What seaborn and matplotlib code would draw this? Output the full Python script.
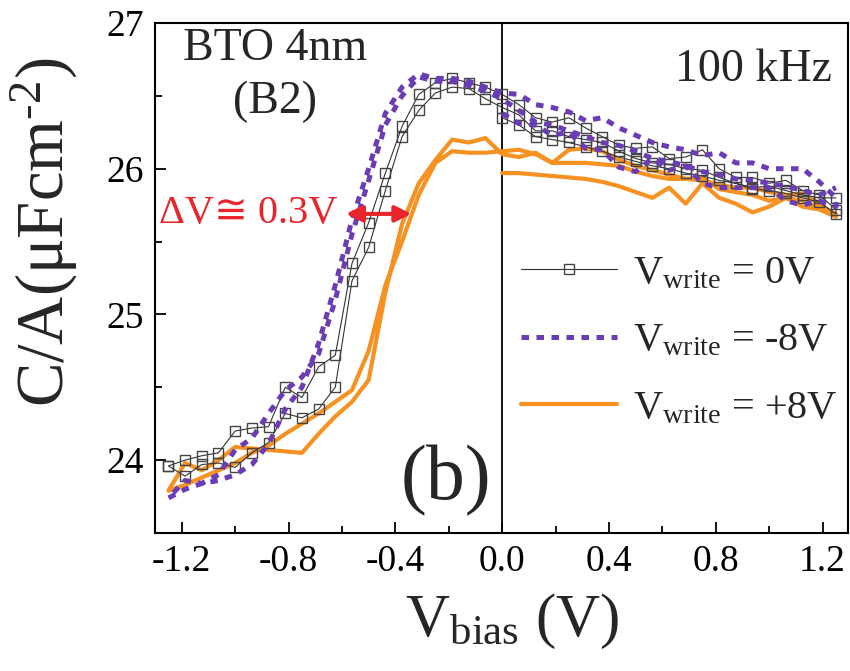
import numpy as np
import pandas as pd
import matplotlib
matplotlib.use("Agg")
import matplotlib.pyplot as plt
from matplotlib.ticker import MultipleLocator
import seaborn as sns

# bias sweep: 0 -> +1.25 (init), +1.25 -> -1.25 (down), -1.25 -> +1.25 (up)
v_right = np.linspace(0.0, 1.25, 21)
v_full = np.linspace(-1.25, 1.25, 41)

# C/A values (uF/cm^2), down/up lists given in ascending bias
c0_init = [26.35, 26.30, 26.22, 26.20, 26.18, 26.15, 26.12, 26.08, 26.05, 26.02, 26.00,
           25.97, 25.95, 25.92, 25.90, 25.86, 25.85, 25.83, 25.80, 25.77, 25.69]
c0_down = [23.96, 24.00, 24.03, 24.05, 24.20, 24.22, 24.23, 24.50, 24.43, 24.64, 24.72,
           25.35, 25.63, 25.97, 26.29, 26.51, 26.59, 26.62, 26.59, 26.56, 26.51,
           26.44, 26.35, 26.32, 26.35, 26.28, 26.22, 26.16, 26.14, 26.15, 26.07,
           26.08, 26.13, 26.00, 25.94, 25.94, 25.90, 25.92, 25.85, 25.82, 25.72]
c0_up = [23.96, 23.89, 23.97, 23.98, 23.95, 24.05, 24.12, 24.32, 24.29, 24.35, 24.50,
         25.23, 25.46, 25.85, 26.22, 26.40, 26.52, 26.56, 26.55, 26.48, 26.42,
         26.37, 26.26, 26.26, 26.22, 26.20, 26.18, 26.12, 26.07, 26.04, 26.03,
         26.00, 25.99, 25.94, 25.90, 25.87, 25.88, 25.85, 25.82, 25.80, 25.80]

cm8_init = [26.38, 26.31, 26.30, 26.23, 26.25, 26.14, 26.13, 26.01, 25.98, 26.07, 25.99,
            26.02, 25.90, 25.87, 25.87, 25.87, 25.87, 25.78, 25.75, 25.78, 25.74]
cm8_down = [23.74, 23.80, 23.84, 23.86, 23.90, 23.97, 24.11, 24.35, 24.50, 24.80, 25.20,
            25.65, 26.00, 26.38, 26.56, 26.65, 26.62, 26.62, 26.60, 26.56, 26.52,
            26.51, 26.44, 26.42, 26.39, 26.33, 26.35, 26.28, 26.23, 26.18, 26.15,
            26.13, 26.09, 26.11, 26.04, 26.04, 26.00, 26.00, 26.00, 25.91, 25.80]
cm8_up = [23.74, 23.86, 23.84, 23.90, 24.07, 24.15, 24.32, 24.48, 24.57, 24.73, 25.10,
          25.55, 25.92, 26.30, 26.50, 26.63, 26.60, 26.60, 26.57, 26.53, 26.48,
          26.40, 26.32, 26.30, 26.26, 26.22, 26.18, 26.16, 26.12, 26.07, 26.05,
          26.02, 25.98, 25.96, 25.93, 25.92, 25.90, 25.88, 25.85, 25.82, 25.87]

cp8_init = [25.97, 25.97, 25.96, 25.95, 25.94, 25.93, 25.91, 25.88, 25.84, 25.80, 25.87,
            25.76, 25.90, 25.80, 25.76, 25.70, 25.74, 25.80, 25.74, 25.72, 25.67]
cp8_down = [23.79, 23.98, 23.93, 24.00, 24.09, 24.08, 24.07, 24.06, 24.05, 24.18, 24.30,
            24.40, 24.55, 25.15, 25.62, 25.90, 26.06, 26.20, 26.18, 26.21, 26.10,
            26.08, 26.11, 26.04, 26.04, 26.04, 26.03, 26.02, 25.98, 25.95, 25.93,
            25.93, 25.92, 25.89, 25.87, 25.87, 25.84, 25.82, 25.83, 25.76, 25.68]
cp8_up = [23.79, 23.83, 23.88, 23.93, 23.98, 24.05, 24.10, 24.18, 24.25, 24.32, 24.40,
          24.48, 24.75, 25.20, 25.50, 25.82, 26.04, 26.12, 26.11, 26.11, 26.12,
          26.13, 26.10, 26.04, 26.13, 26.14, 26.12, 26.06, 26.02, 25.99, 25.96,
          25.93, 25.94, 25.86, 25.84, 25.82, 25.78, 25.80, 25.78, 25.73, 25.69]

labels = [r"V$_{\mathregular{write}}$ = 0V",
          r"V$_{\mathregular{write}}$ = -8V",
          r"V$_{\mathregular{write}}$ = +8V"]


def sweep(init, down, up, name):
    v = np.concatenate([v_right, v_full[::-1], v_full])
    c = np.concatenate([init, down[::-1], up])
    return pd.DataFrame({"V": v, "C": c, "series": name})


df = pd.concat([
    sweep(c0_init, c0_down, c0_up, labels[0]),
    sweep(cm8_init, cm8_down, cm8_up, labels[1]),
    sweep(cp8_init, cp8_down, cp8_up, labels[2]),
], ignore_index=True)

sns.set_theme(style="white")
plt.rcParams["font.family"] = ["Liberation Serif", "DejaVu Sans"]
plt.rcParams["mathtext.fontset"] = "custom"
plt.rcParams["mathtext.rm"] = "Liberation Serif"
plt.rcParams["mathtext.it"] = "Liberation Serif:italic"

orange = "#F59222"
purple = "#6A3DB4"
red = "#E8252B"

fig = plt.figure(figsize=(8.5, 6.71), dpi=100)
ax = fig.add_axes([0.1824, 0.2057, 0.8152, 0.76])

sns.lineplot(data=df[df.series == labels[2]], x="V", y="C", sort=False, estimator=None,
             color=orange, lw=3.0, ax=ax, zorder=2, label=labels[2])
sns.lineplot(data=df[df.series == labels[0]], x="V", y="C", sort=False, estimator=None,
             color="#333333", lw=0.8, marker="s", markersize=7, mfc="none", mec="#444444",
             mew=1.0, ax=ax, zorder=3, label=labels[0])
sns.lineplot(data=df[df.series == labels[1]], x="V", y="C", sort=False, estimator=None,
             color=purple, lw=3.6, ax=ax, zorder=4, label=labels[1],
             dashes=False)
ax.lines[-1].set_linestyle((0, (1.5, 1.5)))
ax.lines[-1].set_dash_capstyle("butt")

ax.axvline(0, color="black", lw=1.3, zorder=1)

ax.set_xlim(-1.30, 1.295)
ax.set_ylim(23.5, 27.0)
ax.xaxis.set_minor_locator(MultipleLocator(0.2))
ax.yaxis.set_minor_locator(MultipleLocator(0.5))
ax.set_xticks([-1.2, -0.8, -0.4, 0.0, 0.4, 0.8, 1.2])
ax.set_xticklabels(["-1.2", "-0.8", "-0.4", "0.0", "0.4", "0.8", "1.2"])
ax.set_yticks([24, 25, 26, 27])
ax.set_yticklabels(["24", "25", "26", "27"])
ax.tick_params(which="both", direction="in", bottom=True, left=True, top=False, right=False,
               width=1.3, colors="black")
ax.tick_params(which="major", length=8, labelsize=27, pad=8)
ax.tick_params(which="minor", length=5)
for s in ax.spines.values():
    s.set_color("black")
    s.set_linewidth(1.5)

ax.set_xlabel(r"V$_{\mathregular{bias}}$ (V)", fontsize=44)
ax.xaxis.set_label_coords(0.515, -0.115)
ax.set_ylabel(r"C/A(μFcm$^{\text{-2}}$)", fontsize=48, va="center")
ax.yaxis.set_label_coords(-0.16, 0.59)

ax.text(-0.85, 26.82, "BTO 4nm", fontsize=33, ha="center", va="center")
ax.text(-0.85, 26.46, "(B2)", fontsize=33, ha="center", va="center")
ax.text(1.235, 26.68, "100 kHz", fontsize=33, ha="right", va="center")
ax.text(-0.21, 23.86, "(b)", fontsize=56, ha="center", va="center")
ax.text(-1.285, 25.69, "ΔV≅ 0.3V", fontsize=29, color=red, ha="left", va="center",
        family=["Liberation Serif", "DejaVu Sans"])
ax.annotate("", xy=(-0.34, 25.69), xytext=(-0.585, 25.69),
            arrowprops=dict(arrowstyle="<|-|>", color=red, lw=3, mutation_scale=24,
                            shrinkA=0, shrinkB=0), zorder=6)

h, l = ax.get_legend_handles_labels()
order = [l.index(x) for x in labels]
ax.legend([h[i] for i in order], [l[i] for i in order], loc="upper left",
          bbox_to_anchor=(0.487, 0.6), frameon=False, fontsize=29,
          handlelength=2.4, handletextpad=0.4, labelspacing=0.75, borderpad=0.2)

fig.savefig("out.png", dpi=100)
